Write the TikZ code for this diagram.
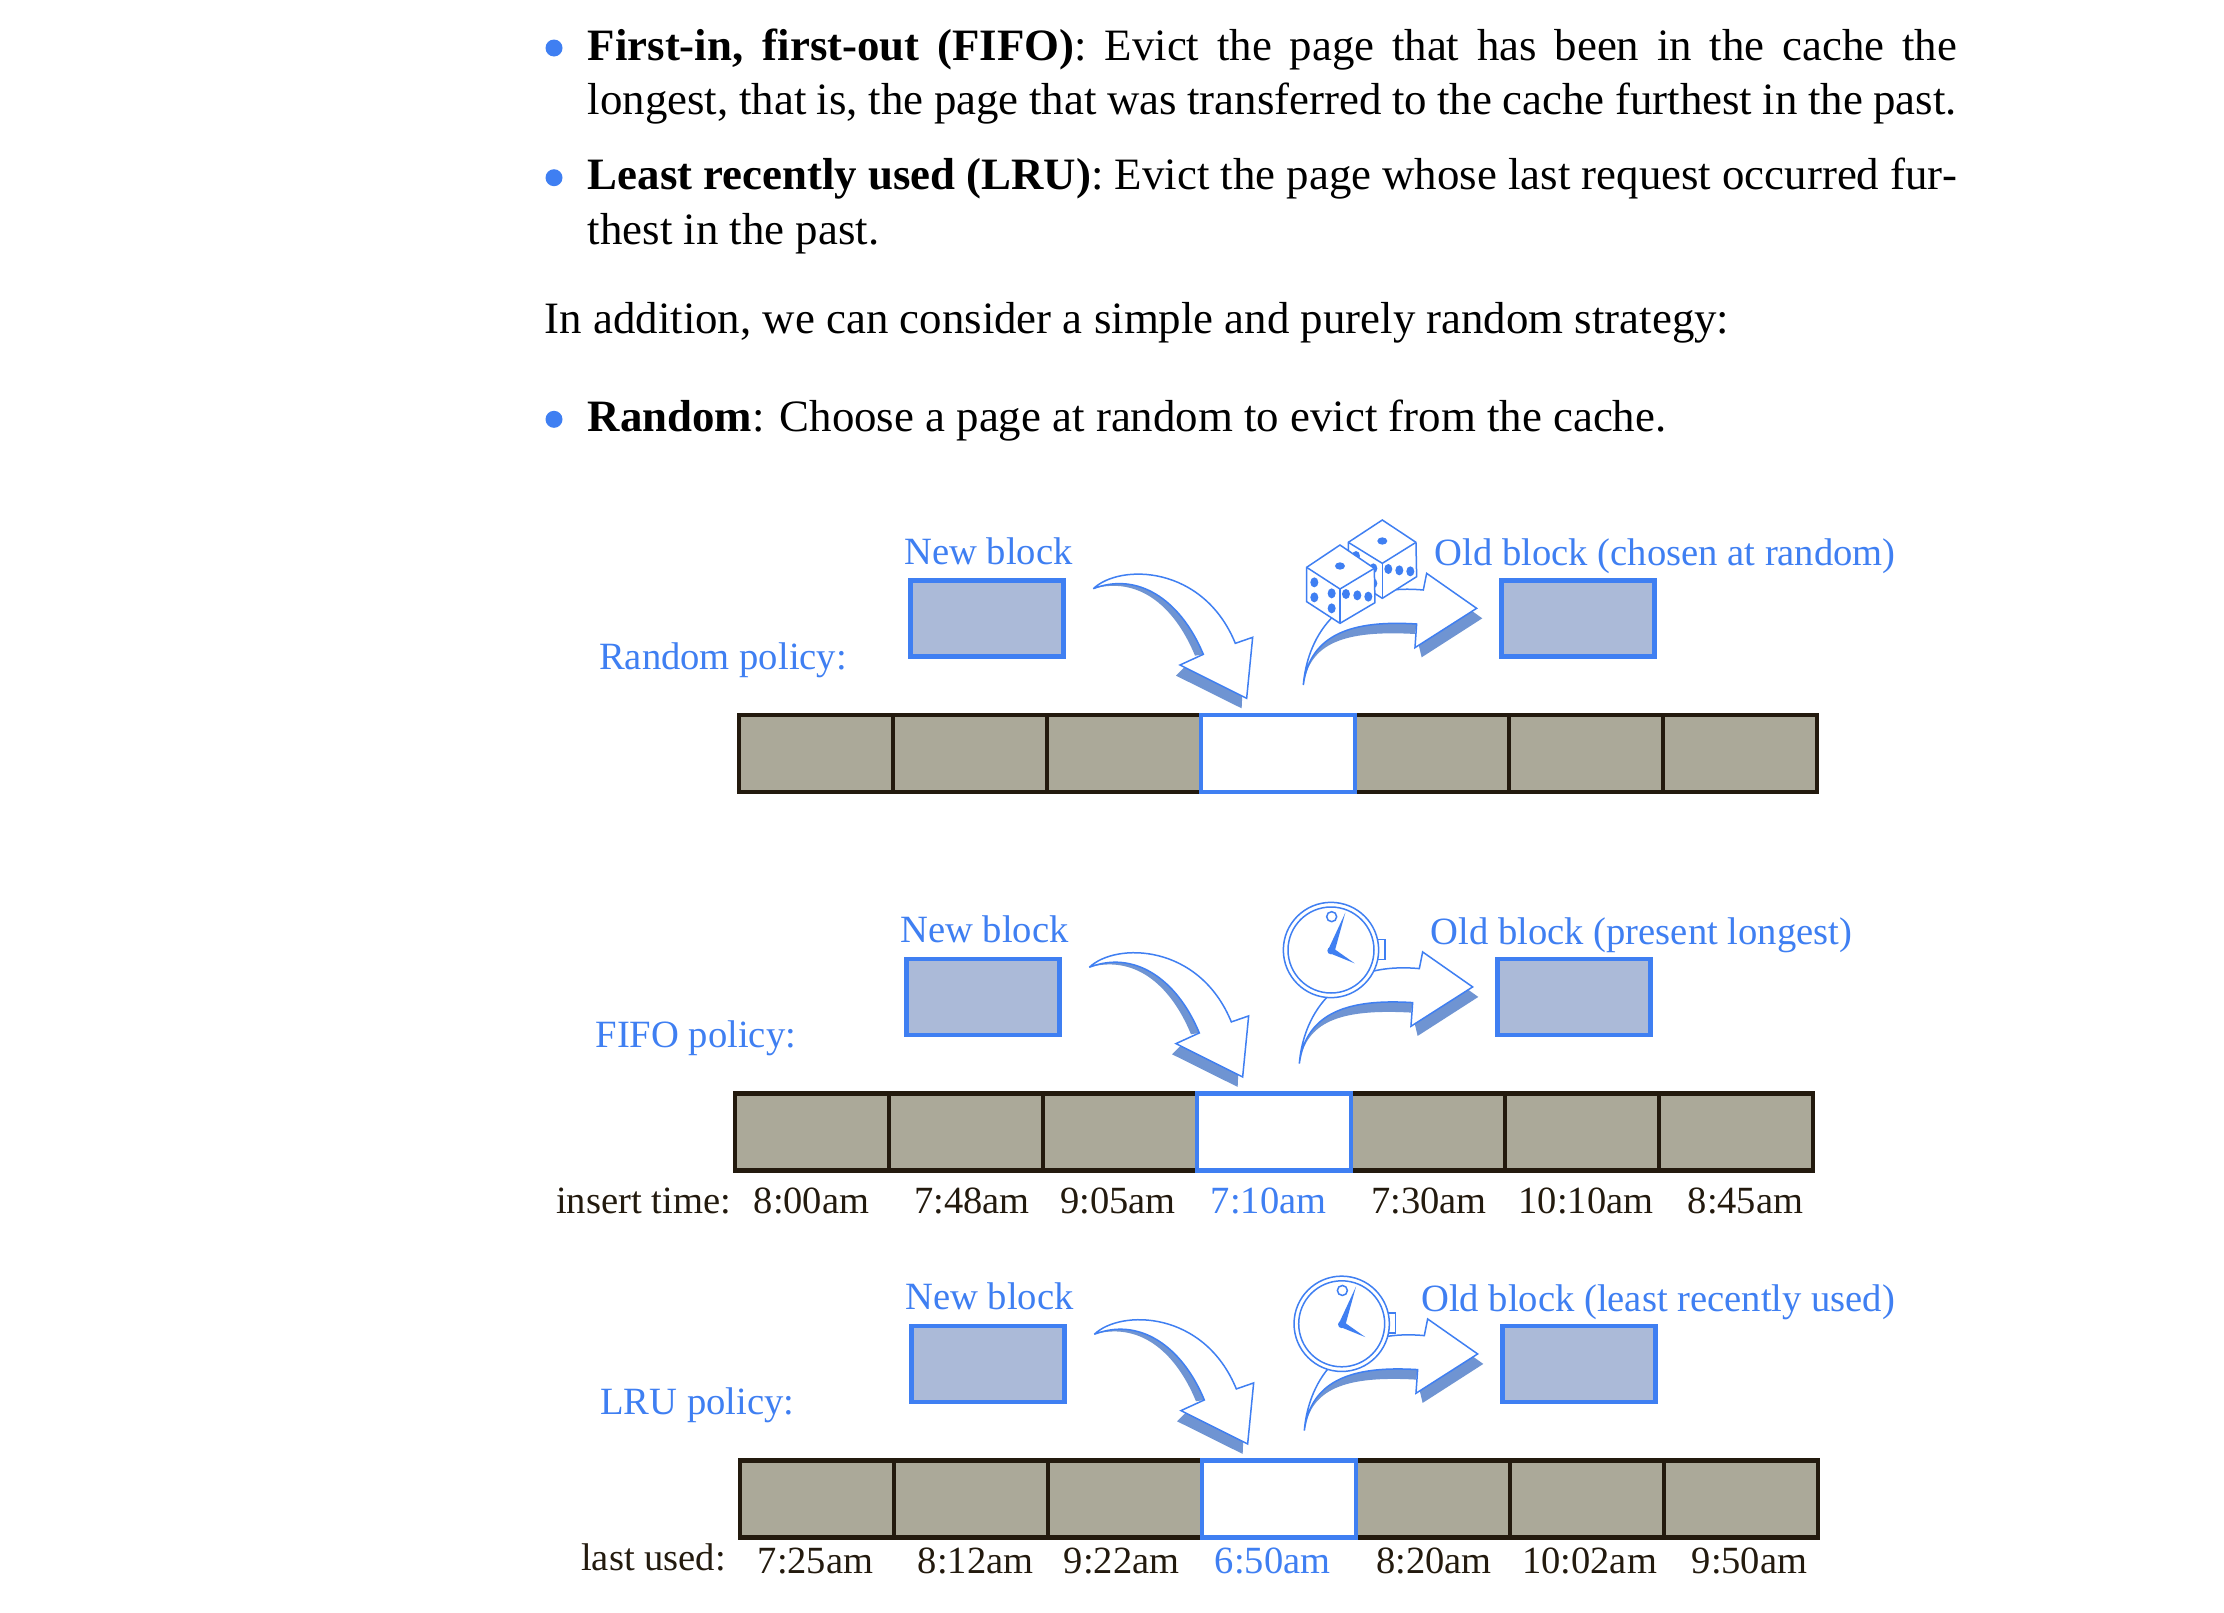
\documentclass[tikz,border=0pt]{standalone}
\usepackage{fontspec}
\setmainfont{Liberation Serif}
\usepackage{xcolor}
\definecolor{policyblue}{HTML}{3F7FF2}
\definecolor{blockfill}{HTML}{ABBAD8}
\definecolor{cellfill}{HTML}{ABA999}
\definecolor{celldark}{HTML}{231A0E}
\definecolor{shadowblue}{HTML}{6F94D2}
\usepackage{tikz}
\tikzstyle{cell} = [rectangle, minimum width=154pt, minimum height=77pt, inner sep=0pt, outer sep=0pt, draw=celldark, line width=4.5pt, fill=cellfill]
\tikzstyle{victim} = [cell, draw=policyblue, fill=white]
\tikzstyle{block} = [rectangle, minimum width=153pt, minimum height=76pt, inner sep=0pt, outer sep=0pt, draw=policyblue, line width=4.5pt, fill=blockfill]
\tikzstyle{bodyline} = [anchor=base west, inner sep=0pt, font=\fontsize{44.85}{55}\selectfont]
\tikzstyle{label} = [anchor=base west, inner sep=0pt, text=policyblue, font=\fontsize{38.6}{46}\selectfont]
\tikzstyle{stamp} = [anchor=base, inner sep=0pt, text=celldark, font=\fontsize{38.5}{46}\selectfont]
\tikzstyle{dot} = [circle, minimum size=17pt, inner sep=0pt, fill=policyblue]
\tikzstyle{shadow} = [fill=shadowblue]
\tikzstyle{arrowshape} = [draw=policyblue, line width=1.5pt, fill=white, line join=miter, miter limit=4]
\tikzstyle{pip} = [fill=policyblue]

\newcommand{\insertarrow}[2]{%
  \begin{scope}[shift={(1080+#1,510+#2)},scale=0.3333]
    \fill[shadow] (40,236) .. controls (170,200) and (280,280) .. (345,437) -- (370,433) .. controls (300,265) and (170,185) .. (40,236);
    \fill[shadow] (288,497) -- (485,595) -- (487,550) -- (320,465) -- cycle;
    \draw[arrowshape] (40,236) .. controls (120,160) and (370,165) .. (466,400) -- (518,382) -- (500,565) -- (300,465) -- (370,433) .. controls (300,265) and (170,185) .. (40,236) -- cycle;
  \end{scope}}
\newcommand{\evictarrow}[2]{%
  \begin{scope}[shift={(1080+#1,510+#2)},scale=0.3333]
    \fill[shadow] (670,525) .. controls (690,400) and (790,360) .. (1005,372) -- (1010,342) .. controls (820,330) and (690,370) .. (670,525);
    \fill[shadow] (1015,400) -- (1025,442) -- (1207,325) -- (1172,300) -- cycle;
    \draw[arrowshape] (670,525) .. controls (680,400) and (760,215) .. (1030,240) -- (1040,190) -- (1190,295) -- (1005,413) -- (1010,342) .. controls (820,330) and (690,370) .. (670,525) -- cycle;
  \end{scope}}
\newcommand{\twodice}[2]{%
  \begin{scope}[shift={(1080+#1,510+#2)},scale=0.3333]
    % back die
    \draw[arrowshape] (907,30) -- (1008,97) -- (1010,200) -- (907,265) -- (805,200) -- (805,97) -- cycle;
    \draw[arrowshape] (805,97) -- (907,160) -- (1008,97);
    \draw[arrowshape] (907,160) -- (907,265);
    \fill[pip] (907,93) ellipse [x radius=15, y radius=11];
    \foreach \px/\py in {925/177, 958/181, 991/184, 828/138, 880/175, 880/220}
      \fill[pip] (\px,\py) ellipse [x radius=12, y radius=15];
    % front die
    \draw[arrowshape] (780,105) -- (883,175) -- (885,278) -- (780,340) -- (680,275) -- (680,172) -- cycle;
    \draw[arrowshape] (680,172) -- (780,237) -- (883,175);
    \draw[arrowshape] (780,237) -- (780,340);
    \fill[pip] (780,168) ellipse [x radius=15, y radius=11];
    \foreach \px/\py in {703/217, 703/262, 755/250, 755/295, 798/252, 832/256, 865/260}
      \fill[pip] (\px,\py) ellipse [x radius=12, y radius=15];
  \end{scope}}
\newcommand{\watch}[2]{%
  \begin{scope}[shift={(#1,#2)},scale=0.3333]
    \draw[arrowshape] (320,148) rectangle (345,208);
    \draw[arrowshape] (183,180) circle (143);
    \draw[arrowshape] (183,180) circle (129);
    \draw[arrowshape] (185,80) circle (15);
    \fill[pip] (183,182) circle (11);
    \fill[pip] (174,180) -- (226,68) -- (194,184) -- cycle;
    \fill[pip] (186,172) -- (254,220) -- (180,190) -- cycle;
  \end{scope}}

\begin{document}
\begin{tikzpicture}[x=1pt, y=-1pt, node distance=154pt]
    \useasboundingbox [fill=white] (0,0) rectangle (2224,1612);

    % text above the figure
    \node (fifodot) [dot] at (554,48) {};
    \node (fifoa) [bodyline] at (587.6,60.1) {\hbox to 1369pt{\textbf{First-in, first-out (FIFO)}: Evict the page that has been in the cache the}};
    \node (fifob) [bodyline] at (587.6,114.7) {\hbox to 1369pt{longest, that is, the page that was transferred to the cache furthest in the past.}};
    \node (lrudot) [dot] at (554,177.7) {};
    \node (lrua) [bodyline] at (587.6,189.7) {\hbox to 1369pt{\textbf{Least recently used (LRU)}: Evict the page whose last request occurred fur-}};
    \node (lrub) [bodyline] at (587.6,244.7) {thest in the past.};
    \node (addition) [bodyline] at (544.6,333.4) {In addition, we can consider a simple and purely random strategy:};
    \node (randdot) [dot] at (554,419.3) {};
    \node (randa) [bodyline] at (587.6,431.4) {\textbf{Random}: Choose a page at random to evict from the cache.};

    % random policy
    \node (randpolicy) [label] at (599,669.1) {Random policy:};
    \node (randnewtxt) [label] at (904,564.1) {New block};
    \node (randoldtxt) [label] at (1434.6,565.4) {Old block (chosen at random)};
    \node (randnew) [block] at (987.2,618.5) {};
    \node (randold) [block] at (1578.2,618.5) {};
    \node (rand1) [cell] at (816,753.5) {};
    \node (rand2) [cell, right of=rand1] {};
    \node (rand3) [cell, right of=rand2] {};
    \node (rand5) [cell, right of=rand3, xshift=154pt] {};
    \node (rand6) [cell, right of=rand5] {};
    \node (rand7) [cell, right of=rand6] {};
    \node (rand4) [victim, right of=rand3] {};
    \insertarrow{0}{0}
    \evictarrow{0}{0}
    \twodice{0}{0}

    % fifo policy
    \node (fifopolicy) [label] at (595.4,1047.7) {FIFO policy:};
    \node (fifonewtxt) [label] at (900,942.7) {New block};
    \node (fifooldtxt) [label] at (1430.6,944) {Old block (present longest)};
    \node (fifonew) [block] at (983.2,997.1) {};
    \node (fifoold) [block] at (1574.2,997.1) {};
    \node (fifo1) [cell] at (812,1132.1) {};
    \node (fifo2) [cell, right of=fifo1] {};
    \node (fifo3) [cell, right of=fifo2] {};
    \node (fifo5) [cell, right of=fifo3, xshift=154pt] {};
    \node (fifo6) [cell, right of=fifo5] {};
    \node (fifo7) [cell, right of=fifo6] {};
    \node (fifo4) [victim, right of=fifo3] {};
    \insertarrow{-4}{378.6}
    \evictarrow{-4}{378.6}
    \watch{1270}{890}
    \node (fifotime) [label, text=celldark] at (556,1213) {insert time:};
    \node (fifot1) [stamp] at (811.5,1213) {8:00am};
    \node (fifot2) [stamp] at (972,1213) {7:48am};
    \node (fifot3) [stamp] at (1118,1213) {9:05am};
    \node (fifot4) [stamp, text=policyblue] at (1268.6,1213) {7:10am};
    \node (fifot5) [stamp] at (1429,1213) {7:30am};
    \node (fifot6) [stamp] at (1586,1213) {10:10am};
    \node (fifot7) [stamp] at (1745.5,1213) {8:45am};

    % lru policy
    \node (lrupolicy) [label] at (600,1414.7) {LRU policy:};
    \node (lrunewtxt) [label] at (905,1309.7) {New block};
    \node (lruoldtxt) [label] at (1421,1311.4) {Old block (least recently used)};
    \node (lrunew) [block] at (988.2,1364.1) {};
    \node (lruold) [block] at (1579.2,1364.1) {};
    \node (lru1) [cell] at (817,1499.1) {};
    \node (lru2) [cell, right of=lru1] {};
    \node (lru3) [cell, right of=lru2] {};
    \node (lru5) [cell, right of=lru3, xshift=154pt] {};
    \node (lru6) [cell, right of=lru5] {};
    \node (lru7) [cell, right of=lru6] {};
    \node (lru4) [victim, right of=lru3] {};
    \insertarrow{1}{745.6}
    \evictarrow{1}{745.6}
    \watch{1280.7}{1263.8}
    \node (lrutime) [label, text=celldark] at (581,1570.5) {last used:};
    \node (lrut1) [stamp] at (815.5,1573) {7:25am};
    \node (lrut2) [stamp] at (975.7,1573) {8:12am};
    \node (lrut3) [stamp] at (1121.7,1573) {9:22am};
    \node (lrut4) [stamp, text=policyblue] at (1272.6,1573) {6:50am};
    \node (lrut5) [stamp] at (1433.8,1573) {8:20am};
    \node (lrut6) [stamp] at (1589.6,1573) {10:02am};
    \node (lrut7) [stamp] at (1749.5,1573) {9:50am};
\end{tikzpicture}
\end{document}
